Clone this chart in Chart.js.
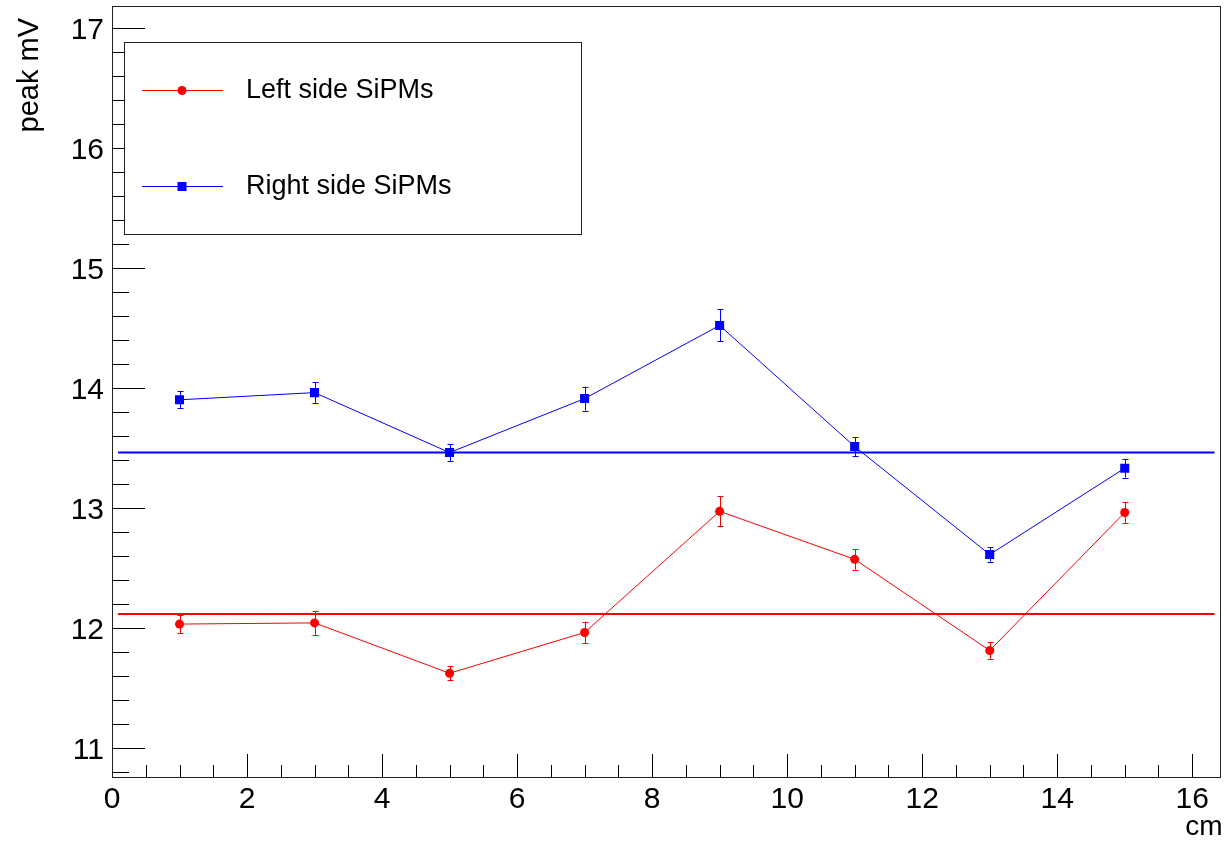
<!DOCTYPE html>
<html>
<head>
<title>SiPM peak vs position</title>
<style>
    body {
        margin: 0;
        background: #ffffff;
    }
    #wrap {
        width: 1227px;
        height: 843px;
    }
</style>
</head>
<body>
<div id="wrap"><canvas id="peakChart"></canvas></div>

<script src="https://cdn.jsdelivr.net/npm/chart.js"></script>
<script>
    // measurements: source position (cm) and mean peak height (mV)
    const positions = [1, 3, 5, 7, 9, 11, 13, 15];
    const leftPeak = [12.03, 12.04, 11.62, 11.96, 12.97, 12.57, 11.81, 12.96];
    const leftErr = [0.075, 0.10, 0.058, 0.09, 0.125, 0.086, 0.068, 0.086];
    const rightPeak = [13.90, 13.96, 13.46, 13.91, 14.52, 13.51, 12.61, 13.33];
    const rightErr = [0.07, 0.085, 0.07, 0.10, 0.133, 0.08, 0.06, 0.078];

    // constant fits to each side, and the x range they are drawn over
    const leftFit = 12.115;
    const rightFit = 13.46;
    const fitRange = [0.09, 16.33];

    const xTicks = [0, 2, 4, 6, 8, 10, 12, 14, 16];
    const yTicks = [11, 12, 13, 14, 15, 16, 17];
    const legendLabels = ['Left side SiPMs', 'Right side SiPMs'];

    const FONT = '"Liberation Sans", Arial, Helvetica, sans-serif';
    const RED = '#ff0000';
    const BLUE = '#0000ff';

    function points(ys) {
        return positions.map((x, i) => ({ x: x, y: ys[i] }));
    }

    // ROOT-like frame, inward ticks, labels, error bars, legend box and axis titles
    const rootStyle = {
        id: 'rootStyle',
        beforeDatasetsDraw(chart) {
            const ctx = chart.ctx;
            const xs = chart.scales.x, ys = chart.scales.y;
            const bars = [[leftPeak, leftErr, RED], [rightPeak, rightErr, BLUE]];
            ctx.save();
            ctx.lineWidth = 1;
            bars.forEach(([vals, errs, col]) => {
                ctx.strokeStyle = col;
                positions.forEach((x, i) => {
                    const px = Math.round(xs.getPixelForValue(x)) + 0.5;
                    const top = ys.getPixelForValue(vals[i] + errs[i]);
                    const bot = ys.getPixelForValue(vals[i] - errs[i]);
                    ctx.beginPath();
                    ctx.moveTo(px, top);
                    ctx.lineTo(px, bot);
                    ctx.moveTo(px - 3, Math.round(top) + 0.5);
                    ctx.lineTo(px + 3, Math.round(top) + 0.5);
                    ctx.moveTo(px - 3, Math.round(bot) + 0.5);
                    ctx.lineTo(px + 3, Math.round(bot) + 0.5);
                    ctx.stroke();
                });
            });
            ctx.restore();
        },
        afterDraw(chart) {
            const ctx = chart.ctx;
            const a = chart.chartArea;
            const xs = chart.scales.x, ys = chart.scales.y;
            ctx.save();

            // frame
            ctx.strokeStyle = '#222';
            ctx.lineWidth = 1;
            ctx.strokeRect(Math.round(a.left) + 0.5, Math.round(a.top) + 0.5,
                Math.round(a.right - a.left) - 1, Math.round(a.bottom - a.top));

            // y ticks every 0.2, major on integers
            ctx.strokeStyle = '#000';
            ctx.beginPath();
            for (let k = Math.ceil(ys.min / 0.2); k * 0.2 <= ys.max; k++) {
                const py = Math.round(ys.getPixelForValue(k * 0.2)) + 0.5;
                const len = k % 5 === 0 ? 33 : 17;
                ctx.moveTo(a.left, py);
                ctx.lineTo(a.left + len, py);
            }
            // x ticks every 0.5, major on even numbers
            for (let k = 1; k * 0.5 <= xs.max; k++) {
                const px = Math.round(xs.getPixelForValue(k * 0.5)) + 0.5;
                const len = k % 4 === 0 ? 23 : 12;
                ctx.moveTo(px, a.bottom);
                ctx.lineTo(px, a.bottom - len);
            }
            ctx.stroke();

            // tick labels
            ctx.fillStyle = '#000';
            ctx.font = '30px ' + FONT;
            ctx.textAlign = 'right';
            ctx.textBaseline = 'alphabetic';
            yTicks.forEach(v => {
                ctx.fillText(String(v), a.left - 8, ys.getPixelForValue(v) + 11);
            });
            ctx.textAlign = 'center';
            xTicks.forEach(v => {
                ctx.fillText(String(v), xs.getPixelForValue(v), a.bottom + 31);
            });

            // axis titles
            ctx.font = '28px ' + FONT;
            ctx.textAlign = 'right';
            ctx.fillText('cm', a.right + 2, 835);
            ctx.save();
            ctx.font = '29px ' + FONT;
            ctx.translate(38, 18);
            ctx.rotate(-Math.PI / 2);
            ctx.fillText('peak mV', 0, 0);
            ctx.restore();

            // legend
            ctx.fillStyle = '#fff';
            ctx.fillRect(124.5, 42.5, 457, 192);
            ctx.strokeStyle = '#222';
            ctx.strokeRect(124.5, 42.5, 457, 192);
            const rows = [[90.5, RED, 'circle'], [186.5, BLUE, 'rect']];
            rows.forEach(([ry, col, shape], i) => {
                ctx.strokeStyle = col;
                ctx.fillStyle = col;
                ctx.beginPath();
                ctx.moveTo(142, ry);
                ctx.lineTo(223, ry);
                ctx.stroke();
                if (shape === 'circle') {
                    ctx.beginPath();
                    ctx.arc(182, ry, 4.5, 0, Math.PI * 2);
                    ctx.fill();
                } else {
                    ctx.fillRect(177.5, ry - 4.5, 9, 9);
                }
                ctx.fillStyle = '#000';
                ctx.font = '27px ' + FONT;
                ctx.textAlign = 'left';
                ctx.textBaseline = 'middle';
                ctx.fillText(legendLabels[i], 246, ry);
            });
            ctx.restore();
        }
    };

    new Chart(document.getElementById('peakChart'), {
        type: 'scatter',
        data: {
            datasets: [
                {
                    label: legendLabels[0],
                    data: points(leftPeak),
                    showLine: true,
                    borderColor: RED,
                    backgroundColor: RED,
                    borderWidth: 1,
                    pointStyle: 'circle',
                    pointRadius: 4.5,
                    pointBorderWidth: 0
                },
                {
                    label: legendLabels[1],
                    data: points(rightPeak),
                    showLine: true,
                    borderColor: BLUE,
                    backgroundColor: BLUE,
                    borderWidth: 1,
                    pointStyle: 'rect',
                    pointRadius: 6.4,
                    pointBorderWidth: 0
                },
                {
                    label: 'left fit',
                    data: fitRange.map(x => ({ x: x, y: leftFit })),
                    showLine: true,
                    borderColor: RED,
                    borderWidth: 2,
                    pointRadius: 0
                },
                {
                    label: 'right fit',
                    data: fitRange.map(x => ({ x: x, y: rightFit })),
                    showLine: true,
                    borderColor: BLUE,
                    borderWidth: 2,
                    pointRadius: 0
                }
            ]
        },
        options: {
            responsive: true,
            maintainAspectRatio: false,
            animation: false,
            layout: { padding: { top: 5, right: 2, left: 0, bottom: 0 } },
            plugins: {
                legend: { display: false },
                tooltip: { enabled: false }
            },
            scales: {
                x: {
                    type: 'linear',
                    min: 0,
                    max: 16.42,
                    afterBuildTicks: s => { s.ticks = xTicks.map(v => ({ value: v })); },
                    afterFit: s => {
                        s.height = 66;
                        s.paddingLeft = 0;
                        s.paddingRight = 0;
                    },
                    grid: { display: false },
                    border: { display: false },
                    ticks: { display: false }
                },
                y: {
                    type: 'linear',
                    min: 10.755,
                    max: 17.18,
                    afterBuildTicks: s => { s.ticks = yTicks.map(v => ({ value: v })); },
                    afterFit: s => {
                        s.width = 112;
                        s.paddingTop = 0;
                        s.paddingBottom = 0;
                    },
                    grid: { display: false },
                    border: { display: false },
                    ticks: { display: false }
                }
            }
        },
        plugins: [rootStyle]
    });
</script>
</body>
</html>
